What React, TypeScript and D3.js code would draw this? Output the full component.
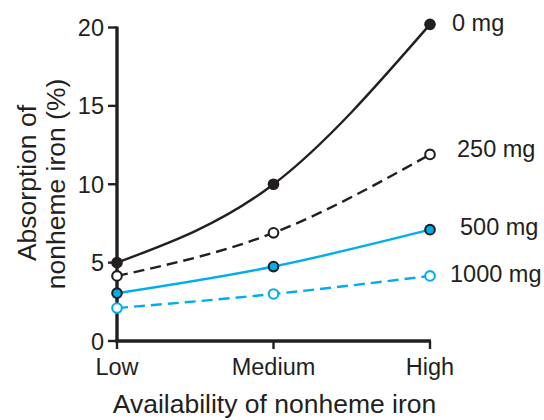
import React from "react";
import * as d3 from "d3";

const categories = ["Low", "Medium", "High"];
const seriesNames = ["0 mg", "250 mg", "500 mg", "1000 mg"];
const values0 = [5.0, 10.0, 20.2];
const values250 = [4.15, 6.9, 11.9];
const values500 = [3.05, 4.75, 7.1];
const values1000 = [2.1, 3.0, 4.15];
const yTicks = [0, 5, 10, 15, 20];
const yTitle = ["Absorption of", "nonheme iron (%)"];
const xTitle = "Availability of nonheme iron";

const INK = "#231f20";
const BLUE = "#00aeef";
const FONT = "'Liberation Sans', Arial, Helvetica, sans-serif";

type Style = { stroke: string; dash?: string; fill: string; mstroke: string; lx: number; ly: number };
const styles: Style[] = [
  { stroke: INK, fill: INK, mstroke: INK, lx: 22, ly: 7 },
  { stroke: INK, dash: "11,6", fill: "#fff", mstroke: INK, lx: 27, ly: 3 },
  { stroke: BLUE, fill: BLUE, mstroke: INK, lx: 30, ly: 5 },
  { stroke: BLUE, dash: "11,6", fill: "#fff", mstroke: BLUE, lx: 20, ly: 6 },
];

export default function App() {
  const width = 544;
  const height = 420;
  const x = d3.scalePoint<string>().domain(categories).range([117, 430]);
  const y = d3.scaleLinear().domain([0, 20]).range([341, 27.5]);
  const all = [values0, values250, values500, values1000];
  const line = d3
    .line<number>()
    .x((_, i) => x(categories[i]) as number)
    .y((d) => y(d))
    .curve(d3.curveNatural);

  const tickFont = 23.5;

  return (
    <svg
      width={width}
      height={height}
      style={{ position: "absolute", left: 0, top: 0, background: "#fff" }}
      fontFamily={FONT}
    >
      <rect width={width} height={height} fill="#fff" />
      {/* y ticks */}
      {yTicks.map((t) => (
        <g key={t}>
          <line x1={108} x2={117} y1={y(t)} y2={y(t)} stroke={INK} strokeWidth={2.4} />
          <text x={104} y={y(t) + 8.5} textAnchor="end" fontSize={tickFont} fill={INK}>
            {t}
          </text>
        </g>
      ))}
      {/* x ticks */}
      {categories.map((c) => (
        <g key={c}>
          <line x1={x(c)} x2={x(c)} y1={341} y2={349} stroke={INK} strokeWidth={2.4} />
          <text x={x(c)} y={375} textAnchor="middle" fontSize={tickFont} fill={INK}>
            {c}
          </text>
        </g>
      ))}
      {/* axes */}
      <line x1={117} x2={117} y1={y(20) - 1} y2={342.5} stroke={INK} strokeWidth={3.4} />
      <line x1={115.5} x2={431} y1={341} y2={341} stroke={INK} strokeWidth={3.4} />
      {/* axis titles */}
      <text
        transform={`translate(36,183) rotate(-90)`}
        textAnchor="middle"
        fontSize={26.5}
        fill={INK}
      >
        {yTitle[0]}
      </text>
      <text
        transform={`translate(65,184) rotate(-90)`}
        textAnchor="middle"
        fontSize={26.5}
        fill={INK}
      >
        {yTitle[1]}
      </text>
      <text x={274.5} y={413} textAnchor="middle" fontSize={26.5} fill={INK}>
        {xTitle}
      </text>
      {/* series */}
      {all.map((vals, si) => {
        const s = styles[si];
        return (
          <g key={si}>
            <path
              d={line(vals) || ""}
              fill="none"
              stroke={s.stroke}
              strokeWidth={2.4}
              strokeDasharray={s.dash}
            />
            {vals.map((v, i) => (
              <circle
                key={i}
                cx={x(categories[i])}
                cy={y(v)}
                r={4.8}
                fill={s.fill}
                stroke={s.mstroke}
                strokeWidth={2.1}
              />
            ))}
            <text
              x={(x(categories[2]) as number) + s.lx}
              y={y(vals[2]) + s.ly}
              fontSize={tickFont}
              fill={INK}
            >
              {seriesNames[si]}
            </text>
          </g>
        );
      })}
    </svg>
  );
}
